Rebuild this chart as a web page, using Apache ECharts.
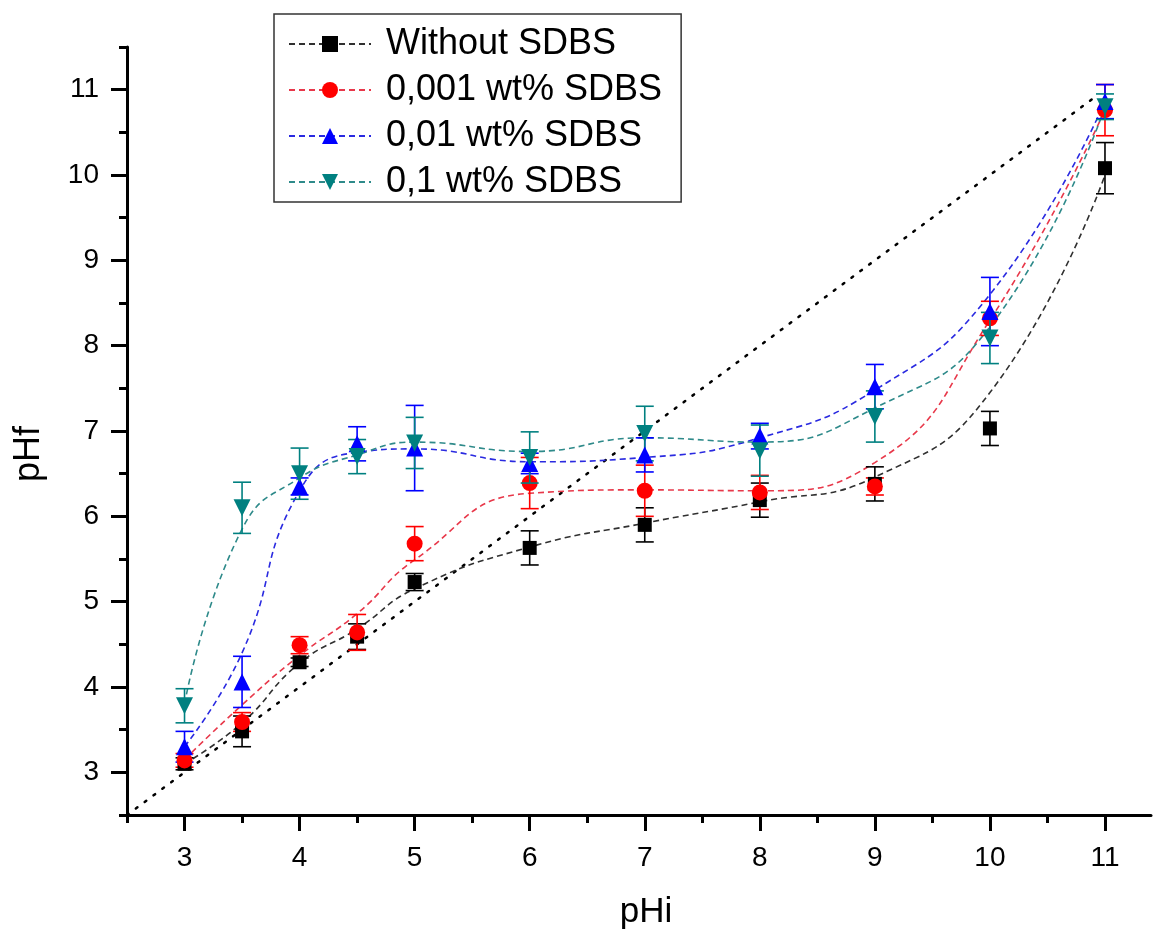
<!DOCTYPE html>
<html><head><meta charset="utf-8">
<script src="https://cdn.jsdelivr.net/npm/echarts@6/dist/echarts.min.js"></script>
<style>html,body{margin:0;padding:0;background:#fff}#c{width:1158px;height:931px}</style>
</head><body><div id="c"></div>
<script>
// ---- data ----
const pHi = [3, 3.5, 4, 4.5, 5, 6, 7, 8, 9, 10, 11];
const seriesNames = ['Without SDBS', '0,001 wt% SDBS', '0,01 wt% SDBS', '0,1 wt% SDBS'];

const pHfWithout = [3.10, 3.48, 4.29, 4.59, 5.23, 5.63, 5.90, 6.19, 6.38, 7.03, 10.08];
const errWithout = [0.07, 0.18, 0.05, 0.15, 0.10, 0.20, 0.20, 0.20, 0.20, 0.20, 0.30];
const pHf0001 = [3.14, 3.59, 4.49, 4.64, 5.68, 6.39, 6.30, 6.28, 6.35, 8.32, 10.76];
const err0001 = [0.08, 0.11, 0.10, 0.21, 0.20, 0.30, 0.30, 0.20, 0.10, 0.20, 0.30];
const pHf001 = [3.30, 4.06, 6.35, 6.85, 6.80, 6.62, 6.72, 6.94, 7.52, 8.40, 10.86];
const err001 = [0.18, 0.30, 0.10, 0.20, 0.50, 0.12, 0.20, 0.15, 0.26, 0.40, 0.20];
const pHf01 = [3.78, 6.10, 6.50, 6.70, 6.86, 6.69, 6.97, 6.77, 7.17, 8.09, 10.80];
const err01 = [0.20, 0.30, 0.30, 0.20, 0.30, 0.30, 0.32, 0.30, 0.30, 0.30, 0.15];

// dashed smoothed curves, values at each pHi
const fitWithout = [3.10, 3.58, 4.28, 4.68, 5.15, 5.64, 5.92, 6.17, 6.46, 7.45, 10.00];
const fit0001 = [3.15, 3.79, 4.37, 4.86, 5.49, 6.27, 6.31, 6.30, 6.63, 8.30, 10.76];
const fit001 = [3.30, 4.40, 6.30, 6.75, 6.79, 6.64, 6.69, 6.92, 7.48, 8.60, 10.86];
const fit01 = [3.80, 5.85, 6.45, 6.72, 6.87, 6.76, 6.92, 6.87, 7.27, 8.22, 10.80];

// dotted pHf = pHi reference line (end points)
const identityLine = [2.5, 10.9];

// tick values
const xMajorTicks = [3, 4, 5, 6, 7, 8, 9, 10, 11];
const xMinorTicks = [2.5, 3.5, 4.5, 5.5, 6.5, 7.5, 8.5, 9.5, 10.5];
const yMajorTicks = [3, 4, 5, 6, 7, 8, 9, 10, 11];
const yMinorTicks = [2.5, 3.5, 4.5, 5.5, 6.5, 7.5, 8.5, 9.5, 10.5, 11.5];

// ---- styling ----
const FONT = 'Liberation Sans';
const markerColors = ['#000000', '#ff0000', '#0000ff', '#008080'];
const curveColors = ['#303030', '#e8384a', '#2a2ae0', '#2e8a8a'];
const symbols = ['rect', 'circle', 'triangle', 'triangle'];
const rotations = [0, 0, 0, 180];
const sizes = [14, 16, 17, 17];

const values = [pHfWithout, pHf0001, pHf001, pHf01];
const errs = [errWithout, err0001, err001, err01];
const fits = [fitWithout, fit0001, fit001, fit01];

const series = [];
series.push({
  type: 'line', name: 'identity', silent: true, z: 1,
  data: identityLine.map(v => [v, v]),
  symbol: 'none',
  lineStyle: { color: '#000', width: 2.5, type: [2, 9], cap: 'round' }
});
seriesNames.forEach((n, k) => {
  series.push({
    type: 'line', name: n, z: 2, smooth: 0.5,
    data: pHi.map((x, i) => [x, fits[k][i]]),
    symbol: symbols[k], symbolRotate: rotations[k], showSymbol: false,
    itemStyle: { color: markerColors[k] },
    lineStyle: { color: curveColors[k], width: 1.6, type: [6, 4] }
  });
});
seriesNames.forEach((n, k) => {
  const col = markerColors[k];
  series.push({
    type: 'custom', name: n, z: 3 + k, silent: true,
    data: pHi.map((x, i) => [x, values[k][i] - errs[k][i], values[k][i] + errs[k][i]]),
    encode: { x: 0, y: [1, 2] },
    renderItem: (params, api) => {
      const x = api.value(0);
      const lo = api.coord([x, api.value(1)]);
      const hi = api.coord([x, api.value(2)]);
      const hw = 9;
      const st = { stroke: col, lineWidth: 1.6 };
      return {
        type: 'group', children: [
          { type: 'line', shape: { x1: lo[0], y1: lo[1], x2: hi[0], y2: hi[1] }, style: st },
          { type: 'line', shape: { x1: lo[0] - hw, y1: lo[1], x2: lo[0] + hw, y2: lo[1] }, style: st },
          { type: 'line', shape: { x1: hi[0] - hw, y1: hi[1], x2: hi[0] + hw, y2: hi[1] }, style: st }
        ]
      };
    }
  });
  series.push({
    type: 'scatter', name: n, z: 4 + k,
    data: pHi.map((x, i) => [x, values[k][i]]),
    symbol: symbols[k], symbolRotate: rotations[k], symbolSize: sizes[k],
    itemStyle: { color: col, opacity: 1 }
  });
});

const axisLabelStyle = { fontFamily: FONT, fontSize: 28, color: '#000' };

const option = {
  animation: false,
  backgroundColor: '#fff',
  grid: { left: 127, right: 7, top: 47, bottom: 116, containLabel: false, outerBoundsMode: 'none' },
  legend: {
    data: seriesNames,
    orient: 'vertical', left: 274, top: 14,
    padding: [12, 8, 2, 14],
    itemWidth: 82, itemHeight: 20, itemGap: 10,
    borderColor: '#333', borderWidth: 1.5, backgroundColor: '#fff',
    textStyle: { fontFamily: FONT, fontSize: 36, color: '#000', lineHeight: 34, padding: [0, 11, 0, 10] },
    selectedMode: false
  },
  xAxis: [{
    type: 'value', min: 2.5, max: 11.4,
    axisLine: { show: true, onZero: false, lineStyle: { color: '#000', width: 3 } },
    axisTick: { show: true, inside: false, length: 16, lineStyle: { color: '#000', width: 3 }, customValues: xMajorTicks },
    axisLabel: Object.assign({ customValues: xMajorTicks, margin: 29 }, axisLabelStyle),
    splitLine: { show: false },
    name: 'pHi', nameLocation: 'middle', nameGap: 80,
    nameTextStyle: { fontFamily: FONT, fontSize: 35, color: '#000', padding: [0, 0, 0, 14] }
  }, {
    type: 'value', min: 2.5, max: 11.4, position: 'bottom',
    axisLine: { show: false, onZero: false },
    axisTick: { show: true, inside: false, length: 8, lineStyle: { color: '#000', width: 3 }, customValues: xMinorTicks },
    axisLabel: { show: false },
    splitLine: { show: false }
  }],
  yAxis: [{
    type: 'value', min: 2.5, max: 11.5,
    axisLine: { show: true, onZero: false, lineStyle: { color: '#000', width: 3 } },
    axisTick: { show: true, inside: false, length: 16, lineStyle: { color: '#000', width: 3 }, customValues: yMajorTicks },
    axisLabel: Object.assign({ customValues: yMajorTicks, margin: 28 }, axisLabelStyle),
    splitLine: { show: false },
    name: 'pHf', nameLocation: 'middle', nameGap: 80,
    nameTextStyle: { fontFamily: FONT, fontSize: 36, color: '#000', padding: [0, 46, 0, 0] }
  }, {
    type: 'value', min: 2.5, max: 11.5, position: 'left',
    axisLine: { show: false, onZero: false },
    axisTick: { show: true, inside: false, length: 8, lineStyle: { color: '#000', width: 3 }, customValues: yMinorTicks },
    axisLabel: { show: false },
    splitLine: { show: false }
  }],
  series: series
};

const chart = echarts.init(document.getElementById('c'), null, { renderer: 'canvas' });
chart.setOption(option);
</script>
</body></html>
